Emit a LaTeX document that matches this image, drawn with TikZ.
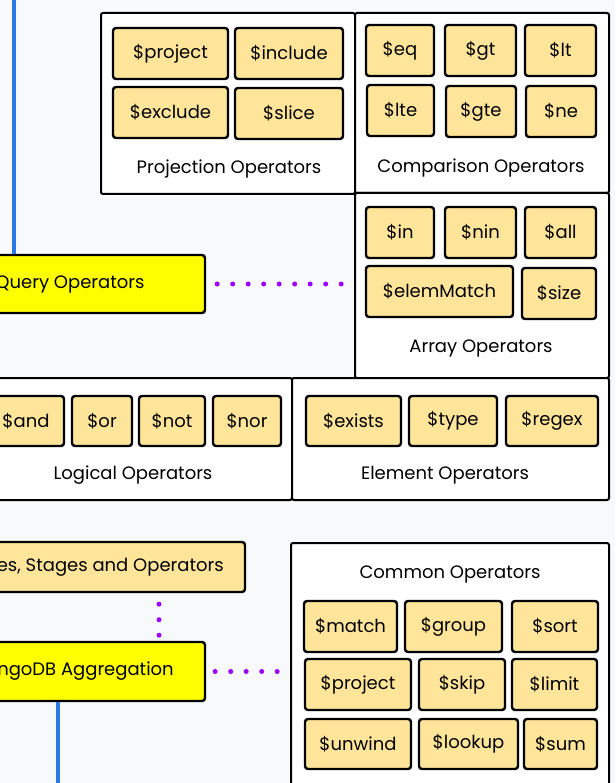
\documentclass[tikz,border=0pt]{standalone}
\usepackage{fontspec}
\setmainfont{Poppins}
\usepackage{xcolor}
\definecolor{paper}{HTML}{F8F9FB}
\definecolor{opyellow}{HTML}{FFE599}
\definecolor{topicyellow}{HTML}{FFFF00}
\definecolor{spineblue}{HTML}{2B78E4}
\definecolor{dotpurple}{HTML}{9900FF}

\tikzset{
    opbtn/.style={draw=black, line width=2.4pt, rounded corners=3pt, fill=opyellow,
        inner sep=0pt, font=\fontsize{18}{21}\selectfont},
    topic/.style={draw=black, line width=2.4pt, rounded corners=3pt, fill=topicyellow,
        inner sep=0pt, font=\fontsize{18}{21}\selectfont},
    groupbox/.style={draw=black, line width=2pt, rounded corners=2pt, fill=white, inner sep=0pt},
    grouptitle/.style={inner sep=0pt, font=\fontsize{18}{21}\selectfont},
    spine/.style={spineblue, line width=4pt},
    dotline/.style={dotpurple, line width=5pt, line cap=round, dash pattern=on 0pt off 15.5pt}
}

\begin{document}
\begin{tikzpicture}[x=1pt,y=-1pt]
            \useasboundingbox[fill=paper] (0,0) rectangle (615,783);

            % Group boxes
            \foreach \nm/\l/\t/\r/\b in {projbox/101/13/355/194, compbox/355/13/609/193,
                arraybox/355/193/609/378, logicbox/-26/378/292/500, elembox/292/378/609/500,
                commonbox/291/543/609/820} {
                \node[groupbox, minimum width={(\r-\l)*1pt}, minimum height={(\b-\t)*1pt}]
                    (\nm) at ({(\l+\r)/2},{(\t+\b)/2}) {};
            }

            % Group titles
            \node[grouptitle] (projtitle) at (229,169) {Projection Operators};
            \node[grouptitle] (comptitle) at (481,168) {Comparison Operators};
            \node[grouptitle] (arraytitle) at (481,348) {Array Operators};
            \node[grouptitle] (logictitle) at (133,475) {Logical Operators};
            \node[grouptitle] (elemtitle) at (445,475) {Element Operators};
            \node[grouptitle] (commontitle) at (450,574) {Common Operators};

            % Operator buttons
            \foreach \nm/\l/\t/\r/\b/\txt in {
                pproject/113/28/228/79/project, pinclude/235/28/343/79/include,
                pexclude/113/87/228/138/exclude, pslice/235/88/343/139/slice,
                ceq/366/25/434/76/eq, cgt/445/25/516/76/gt, clt/525/25/596/76/lt,
                clte/367/85/434/136/lte, cgte/446/86/516/137/gte, cne/526/86/596/137/ne,
                ain/366/207/434/258/in, anin/445/207/516/258/nin, aall/525/207/596/258/all,
                aelem/366/266/513/317/elemMatch, asize/522/268/596/319/size,
                land/-12/396/64/446/and, lor/72/396/132/446/or, lnot/139/396/205/446/not,
                lnor/213/396/281/446/nor,
                eexists/306/396/401/446/exists, etype/409/396/497/446/type, eregex/506/396/598/446/regex,
                gmatch/304/601/397/652/match, ggroup/405/601/502/652/group, gsort/512/601/598/652/sort,
                gproject/305/659/411/710/project, gskip/419/659/505/710/skip, glimit/512/659/597/710/limit,
                gunwind/305/719/411/769/unwind, glookup/419/719/518/769/lookup, gsum/524/719/597/769/sum} {
                \node[opbtn, minimum width={(\r-\l)*1pt}, minimum height={(\b-\t)*1pt}]
                    (\nm) at ({(\l+\r)/2},{(\t+\b)/2}) {\$\txt};
            }

            % Topics
            \node[topic, minimum width=270pt, minimum height=58pt] (query) at (70,284) {Query Operators};
            \node[opbtn, minimum width=328pt, minimum height=50pt] (stages) at (81,567) {Pipelines, Stages and Operators};
            \node[topic, minimum width=266pt, minimum height=59pt] (aggr) at (72,671.5) {MongoDB Aggregation};

            % Spine
            \coordinate (spinetop) at (14,0);
            \coordinate (spinebot) at (58,783);
            \draw[spine] (spinetop) -- (spinetop |- query.north);
            \draw[spine] (aggr.south -| spinebot) -- (spinebot);

            % Dotted links
            \draw[dotline, shorten <=11pt] (query.east) -- (query.east -| arraybox.west);
            \draw[dotline, shorten <=11pt] (stages.south -| 159,0) -- (aggr.north -| 159,0);
            \draw[dotline, shorten <=9pt] (aggr.east) -- (aggr.east -| commonbox.west);
        \end{tikzpicture}
\end{document}
